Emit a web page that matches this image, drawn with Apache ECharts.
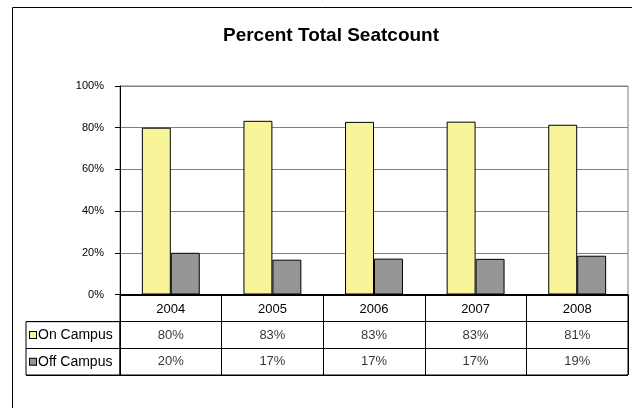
<!DOCTYPE html>
<html>
<head>
<meta charset="utf-8">
<script src="https://cdn.jsdelivr.net/npm/echarts@6/dist/echarts.min.js"></script>
<style>
html,body{margin:0;padding:0;background:#fff;}
#chart{width:632px;height:408px;}
</style>
</head>
<body>
<div id="chart"></div>
<script>
// ---- data ----
const years = ['2004', '2005', '2006', '2007', '2008'];
const seriesNames = ['On Campus', 'Off Campus'];
const onCampus = [80.0, 83.3, 82.8, 82.9, 81.4];
const offCampus = [20.0, 16.7, 17.2, 17.1, 18.6];
const tableRows = ['', 'On Campus', 'Off Campus'];
const yMin = 0, yMax = 100, yStep = 20;
const titleText = 'Percent Total Seatcount';

// ---- styles ----
const FONT = 'Liberation Sans, Arial, sans-serif';
const colorOn = '#F7F49A';
const colorOff = '#969696';
const gridGray = '#808080';

const valuesBySeries = [onCampus, offCampus];
const tableCells = [];
valuesBySeries.forEach((vals, s) => {
  vals.forEach((v, i) => tableCells.push([years[i], tableRows[s + 1], v]));
});

const chart = echarts.init(document.getElementById('chart'), null, {renderer: 'canvas'});
chart.setOption({
  animation: false,
  backgroundColor: '#fff',
  title: {
    text: titleText, left: 326, top: 21, textAlign: 'center',
    textStyle: {fontFamily: FONT, fontSize: 19, fontWeight: 'bold', color: '#000'}
  },
  graphic: [{
    type: 'rect', silent: true, z: -1,
    shape: {x: 12.5, y: 7.5, width: 700, height: 500},
    style: {fill: 'none', stroke: '#000', lineWidth: 1}
  }],
  grid: [
    {left: 120, right: 4, top: 86, height: 208.5, show: true, borderColor: gridGray, borderWidth: 1, backgroundColor: 'transparent'},
    {left: 120, right: 4, top: 295, height: 80, show: true, borderColor: '#000', borderWidth: 1},
    {left: 26, width: 94, top: 295 + 80 / 3, height: 160 / 3, show: true, borderColor: '#000', borderWidth: 1}
  ],
  xAxis: [
    {gridIndex: 0, type: 'category', data: years,
     axisLine: {show: true, lineStyle: {color: '#000', width: 1}},
     axisTick: {show: false}, axisLabel: {show: false}, splitLine: {show: false}},
    {gridIndex: 1, type: 'category', data: years, position: 'top',
     axisLine: {show: false}, axisTick: {show: false},
     axisLabel: {show: true, inside: true, margin: 8, fontFamily: FONT, fontSize: 13, color: '#000'},
     splitLine: {show: true, lineStyle: {color: '#000', width: 1}}},
    {gridIndex: 2, type: 'category', data: [''],
     axisLine: {show: false}, axisTick: {show: false}, axisLabel: {show: false}, splitLine: {show: false}}
  ],
  yAxis: [
    {gridIndex: 0, type: 'value', min: yMin, max: yMax, interval: yStep,
     axisLine: {show: true, lineStyle: {color: '#000', width: 1}},
     axisTick: {show: true, length: 5, lineStyle: {color: '#000'}},
     axisLabel: {formatter: '{value}%', margin: 16, fontFamily: FONT, fontSize: 11, color: '#000'},
     splitLine: {show: true, lineStyle: {color: gridGray, width: 1}}},
    {gridIndex: 1, type: 'category', data: tableRows, inverse: true,
     axisLine: {show: false}, axisTick: {show: false}, axisLabel: {show: false},
     splitLine: {show: true, lineStyle: {color: '#000', width: 1}}},
    {gridIndex: 2, type: 'category', data: seriesNames, inverse: true,
     axisLine: {show: false}, axisTick: {show: false},
     axisLabel: {
       show: true, inside: true, margin: 4,
       formatter: (val, idx) => '{b' + idx + '|}{t|' + val + '}',
       rich: {
         b0: {width: 6, height: 6, backgroundColor: colorOn, borderColor: '#000', borderWidth: 1},
         b1: {width: 6, height: 6, backgroundColor: colorOff, borderColor: '#000', borderWidth: 1},
         t: {fontFamily: FONT, fontSize: 14, color: '#000', padding: [0, 0, 0, 2]}
       }
     },
     splitLine: {show: true, lineStyle: {color: '#000', width: 1}}}
  ],
  series: [
    {name: seriesNames[0], type: 'bar', xAxisIndex: 0, yAxisIndex: 0, data: onCampus,
     barGap: '0%', barCategoryGap: '43%',
     itemStyle: {color: colorOn, borderColor: '#000', borderWidth: 1}},
    {name: seriesNames[1], type: 'bar', xAxisIndex: 0, yAxisIndex: 0, data: offCampus,
     barGap: '0%', barCategoryGap: '43%',
     itemStyle: {color: colorOff, borderColor: '#000', borderWidth: 1}},
    {type: 'scatter', xAxisIndex: 1, yAxisIndex: 1, data: tableCells, silent: true,
     symbolSize: 1, itemStyle: {color: 'rgba(0,0,0,0)'},
     label: {show: true, position: 'inside', fontFamily: FONT, fontSize: 13, color: '#000',
       formatter: p => Math.round(p.value[2]) + '%'}}
  ]
});
</script>
</body>
</html>
